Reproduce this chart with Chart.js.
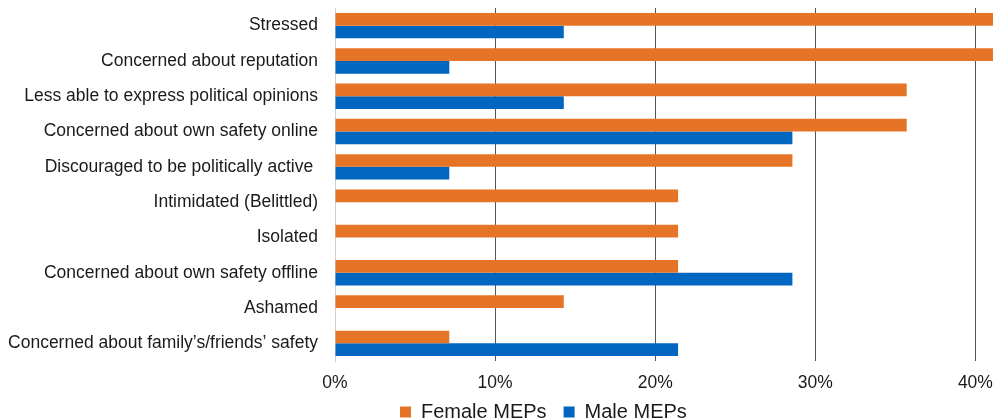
<!DOCTYPE html>
<html lang="en">
<head>
  <meta charset="UTF-8">
  <title>MEPs reactions</title>
  <script src="https://cdn.jsdelivr.net/npm/chart.js"></script>
  <style>
    body { margin: 0; background: #fff; }
    .wrap { width: 993px; height: 420px; }
  </style>
</head>
<body>
  <div class="wrap"><canvas id="chart"></canvas></div>
  <script>
    const categories = [
      "Stressed",
      "Concerned about reputation",
      "Less able to express political opinions",
      "Concerned about own safety online",
      "Discouraged to be politically active ",
      "Intimidated (Belittled)",
      "Isolated",
      "Concerned about own safety offline",
      "Ashamed",
      "Concerned about family\u2019s/friends\u2019 safety"
    ];
    const femaleMEPs = [42.86, 42.86, 35.71, 35.71, 28.57, 21.43, 21.43, 21.43, 14.29, 7.14];
    const maleMEPs = [14.29, 7.14, 14.29, 28.57, 7.14, 0, 0, 28.57, 0, 21.43];
    const xTicks = [0, 10, 20, 30, 40];

    Chart.defaults.font.family = "'Liberation Sans', Arial, sans-serif";
    Chart.defaults.color = '#1a1a1a';

    // the legend in the original sits left of centre and close under the ticks
    const legendShift = {
      id: 'legendShift',
      beforeDraw(chart) {
        const lg = chart.legend;
        const w = lg.right - lg.left, h = lg.bottom - lg.top;
        lg.left = 400 - lg.options.labels.padding;
        lg.right = lg.left + w;
        lg.top = 385;
        lg.bottom = lg.top + h;
      }
    };

    new Chart(document.getElementById('chart'), {
      type: 'bar',
      data: {
        labels: categories,
        datasets: [
          { label: 'Female MEPs', data: femaleMEPs, backgroundColor: '#e57426' },
          { label: 'Male MEPs', data: maleMEPs, backgroundColor: '#0066c0' }
        ]
      },
      options: {
        indexAxis: 'y',
        responsive: true,
        maintainAspectRatio: false,
        animation: false,
        layout: { padding: { top: 8, right: 0, left: 0, bottom: -28 } },
        datasets: { bar: { categoryPercentage: 0.72, barPercentage: 1.0 } },
        scales: {
          x: {
            min: 0,
            max: 41.1,
            afterBuildTicks: s => { s.ticks = xTicks.map(v => ({ value: v })); },
            afterFit: s => { s.paddingRight = 0; s.paddingLeft = 0; s.height = 40; },
            ticks: { font: { size: 17.5 }, padding: 12, callback: v => v + '%' },
            grid: {
              drawTicks: false,
              color: ctx => ctx.tick && ctx.tick.value === 0 ? 'rgba(0,0,0,0)' : '#555'
            },
            border: { display: false }
          },
          y: {
            afterFit: s => { s.width = 335; s.paddingTop = 0; s.paddingBottom = 0; },
            ticks: { font: { size: 17.5 }, padding: 17 },
            grid: { display: false, drawTicks: false },
            border: { display: true, color: '#d0d0d0' }
          }
        },
        plugins: {
          legend: {
            position: 'bottom',
            align: 'start',
            labels: { font: { size: 20 }, boxWidth: 11, boxHeight: 11, padding: 17 }
          },
          tooltip: { enabled: false }
        }
      },
      plugins: [legendShift]
    });
  </script>
</body>
</html>
